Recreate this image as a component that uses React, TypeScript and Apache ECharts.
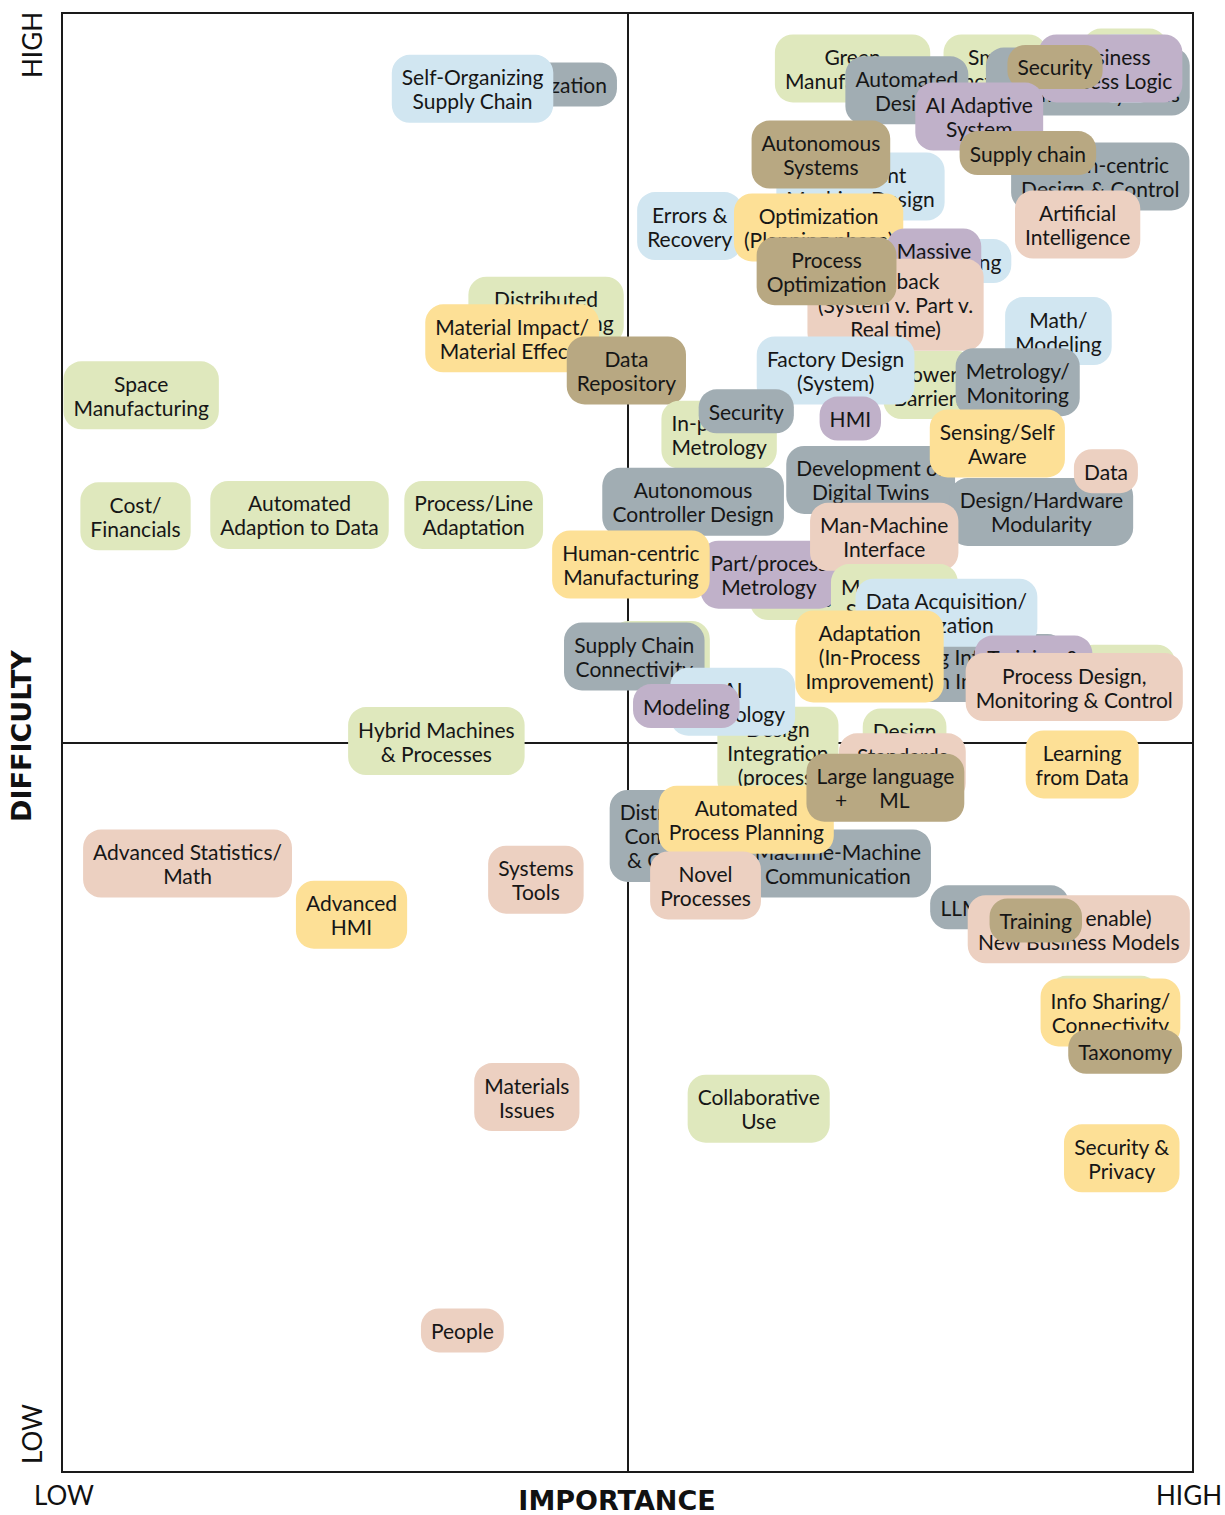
import React, { useEffect, useRef } from "react";
import * as echarts from "echarts";

// Topic labels, in drawing order (later ones lie on top)
const labels: string[] = [
  "Decentralization",
  "Self-Organizing\nSupply Chain",
  "Distributed\nManufacturing",
  "Material Impact/\nMaterial Effects",
  "Data\nRepository",
  "Space\nManufacturing",
  "Cost/\nFinancials",
  "Automated\nAdaption to Data",
  "Process/Line\nAdaptation",
  "Hybrid Machines\n& Processes",
  "Advanced Statistics/\nMath",
  "Advanced\nHMI",
  "Systems\nTools",
  "Materials\nIssues",
  "People",
  "Collaborative\nUse",
  "Security &\nPrivacy",
  "Standards",
  "Info Sharing/\nConnectivity",
  "Taxonomy",
  "LLM Training",
  "(Data to enable)\nNew Business Models",
  "Training",
  "Learning\nfrom Data",
  "Green\nManufacturing",
  "Smart\nFactories",
  "Digital\nThread",
  "Integrated\nAutomated Systems",
  "Big\nData",
  "Business\nProcess Logic",
  "Automated\nDesign",
  "Security",
  "AI Adaptive\nSystem",
  "Intelligent\nMachine Design",
  "Autonomous\nSystems",
  "Human-centric\nDesign & Control",
  "Supply chain",
  "Artificial\nIntelligence",
  "Errors &\nRecovery",
  "Optimization\n(Planning phase)",
  "Edge Computing",
  "Massive\nData",
  "Feedback\n(System v. Part v.\nReal time)",
  "Process\nOptimization",
  "Math/\nModeling",
  "Lower\nBarriers",
  "Factory Design\n(System)",
  "Metrology/\nMonitoring",
  "In-process\nMetrology",
  "Security",
  "HMI",
  "Development of\nDigital Twins",
  "Design/Hardware\nModularity",
  "Sensing/Self\nAware",
  "Data",
  "Autonomous\nController Design",
  "Sensors",
  "Part/process\nMetrology",
  "Human-centric\nManufacturing",
  "Man-Machine\nInterface",
  "Modeling &\nSimulation",
  "Scaling Integration\nwith Industry",
  "Data Acquisition/\nUtilization",
  "Adaptation\n(In-Process\nImprovement)",
  "Robotics",
  "Training &\nWorkforce",
  "Process Design,\nMonitoring & Control",
  "Design\nIntegration\n(process)",
  "Design\nTools",
  "Standards\n& Protocols",
  "Logistics\nPlanning",
  "Supply Chain\nConnectivity",
  "AI\nTechnology",
  "Modeling",
  "Distributed\nCommand\n& Control",
  "Machine-Machine\nCommunication",
  "Automated\nProcess Planning",
  "Novel\nProcesses",
  "Large language\n+      ML     ",
];

// Importance (x, 0-100)
const importance: number[] = [
  41.5, 36.3, 42.8, 39.8, 49.9, 7.0, 6.5, 21.0, 36.4, 33.1,
  11.1, 25.6, 41.9, 41.1, 35.4, 61.6, 93.7, 92.1, 92.7, 94.0,
  82.9, 89.9, 86.1, 90.2, 69.9, 82.5, 94.0, 90.7, 94.1, 92.7,
  74.7, 87.8, 81.1, 70.6, 67.1, 91.8, 85.4, 89.8, 55.5, 66.9,
  76.3, 77.1, 73.7, 67.6, 88.1, 76.7, 68.4, 84.5, 58.1, 60.5,
  69.7, 71.5, 86.6, 82.7, 92.3, 55.8, 64.9, 62.5, 50.3, 72.7,
  73.6, 80.3, 78.2, 71.4, 94.0, 85.9, 89.5, 63.3, 74.5, 74.3,
  52.9, 50.6, 59.3, 55.2, 53.9, 68.6, 60.5, 56.9, 72.8,
];

// Difficulty (y, 0-100)
const difficulty: number[] = [
  95.1, 94.8, 79.6, 77.7, 75.5, 73.8, 65.5, 65.6, 65.6, 50.1,
  41.7, 38.2, 40.6, 25.7, 9.7, 24.9, 21.5, 32.5, 31.5, 28.8,
  38.7, 37.2, 37.8, 48.5, 96.2, 96.2, 96.6, 95.3, 96.2, 96.2,
  94.7, 96.3, 92.9, 88.1, 90.3, 88.8, 90.4, 85.5, 85.4, 85.3,
  83.0, 82.9, 80.0, 82.3, 78.2, 74.5, 75.5, 74.7, 71.1, 72.7,
  72.2, 68.0, 65.8, 70.5, 68.6, 66.5, 59.9, 61.5, 62.2, 64.1,
  59.9, 55.1, 58.9, 55.9, 55.2, 55.0, 53.8, 49.3, 50.0, 48.3,
  56.0, 55.9, 52.8, 52.5, 43.6, 41.7, 44.7, 40.2, 46.9,
];

// Colour group of each label
const groups: string[] = [
  "grey", "blue", "green", "yellow", "tan", "green", "green", "green", "green", "green",
  "pink", "yellow", "pink", "pink", "pink", "green", "yellow", "green", "yellow", "tan",
  "grey", "pink", "tan", "yellow", "green", "green", "green", "grey", "blue", "purple",
  "grey", "tan", "purple", "blue", "tan", "grey", "tan", "pink", "blue", "yellow",
  "blue", "purple", "pink", "tan", "blue", "green", "blue", "grey", "green", "grey",
  "purple", "grey", "grey", "yellow", "pink", "grey", "green", "purple", "yellow", "pink",
  "green", "grey", "blue", "yellow", "green", "purple", "pink", "green", "green", "pink",
  "green", "grey", "blue", "purple", "grey", "grey", "yellow", "pink", "tan",
];

const lowLabel = "LOW";
const highLabel = "HIGH";
const xTitle = "IMPORTANCE";
const yTitle = "DIFFICULTY";

const palette: Record<string, string> = {
  green: "#dfe8bd",
  blue: "#d1e6f1",
  yellow: "#fde096",
  pink: "#ecd0c1",
  grey: "#a1adb3",
  purple: "#c0b1c9",
  tan: "#b8a882",
};

const FONT = "Lato, 'Open Sans', sans-serif";
const TITLE_FONT = "'DejaVu Sans', Verdana, sans-serif";

export default function App() {
  const ref = useRef<HTMLDivElement>(null);
  useEffect(() => {
    document.body.style.margin = "0";
    const chart = echarts.init(ref.current!, null, { renderer: "svg" });
    const data = labels.map((_, i) => [importance[i], difficulty[i], i]);
    const axisCommon = {
      type: "value",
      min: 0,
      max: 100,
      interval: 50,
      axisLine: { show: false },
      axisTick: { show: false },
      axisLabel: { show: false },
      splitLine: { show: true, lineStyle: { color: "#1a1a1a", width: 2 } },
    };
    chart.setOption({
      animation: false,
      grid: {
        left: 62,
        right: 32,
        top: 13,
        bottom: 43,
        show: true,
        borderColor: "#1a1a1a",
        borderWidth: 2,
        backgroundColor: "transparent",
      },
      xAxis: axisCommon,
      yAxis: axisCommon,
      graphic: [
        {
          type: "text",
          x: 32,
          y: 45,
          rotation: Math.PI / 2,
          style: { text: highLabel, font: `26px ${FONT}`, fill: "#111", align: "center", verticalAlign: "middle" },
        },
        {
          type: "text",
          x: 32,
          y: 1434,
          rotation: Math.PI / 2,
          style: { text: lowLabel, font: `26px ${FONT}`, fill: "#111", align: "center", verticalAlign: "middle" },
        },
        {
          type: "text",
          x: 21,
          y: 736,
          rotation: Math.PI / 2,
          style: { text: yTitle, font: `bold 27px ${TITLE_FONT}`, fill: "#111", align: "center", verticalAlign: "middle" },
        },
        {
          type: "text",
          x: 64,
          y: 1495,
          style: { text: lowLabel, font: `26px ${FONT}`, fill: "#111", align: "center", verticalAlign: "middle" },
        },
        {
          type: "text",
          x: 617,
          y: 1500,
          style: { text: xTitle, font: `bold 27px ${TITLE_FONT}`, fill: "#111", align: "center", verticalAlign: "middle" },
        },
        {
          type: "text",
          x: 1189,
          y: 1495,
          style: { text: highLabel, font: `26px ${FONT}`, fill: "#111", align: "center", verticalAlign: "middle" },
        },
      ],
      series: [
        {
          type: "custom",
          coordinateSystem: "cartesian2d",
          silent: true,
          z: 5,
          data,
          renderItem: (params: any, api: any) => {
            const i = api.value(2) as number;
            const p = api.coord([api.value(0), api.value(1)]);
            return {
              type: "text",
              x: p[0],
              y: p[1],
              style: {
                text: labels[i],
                font: `21px ${FONT}`,
                fill: "#161616",
                align: "center",
                verticalAlign: "middle",
                lineHeight: 24,
                backgroundColor: palette[groups[i]],
                padding: [10, 10],
                borderRadius: 18,
              },
            };
          },
        },
      ],
    });
    return () => chart.dispose();
  }, []);
  return <div ref={ref} style={{ width: 1225, height: 1515 }} />;
}
